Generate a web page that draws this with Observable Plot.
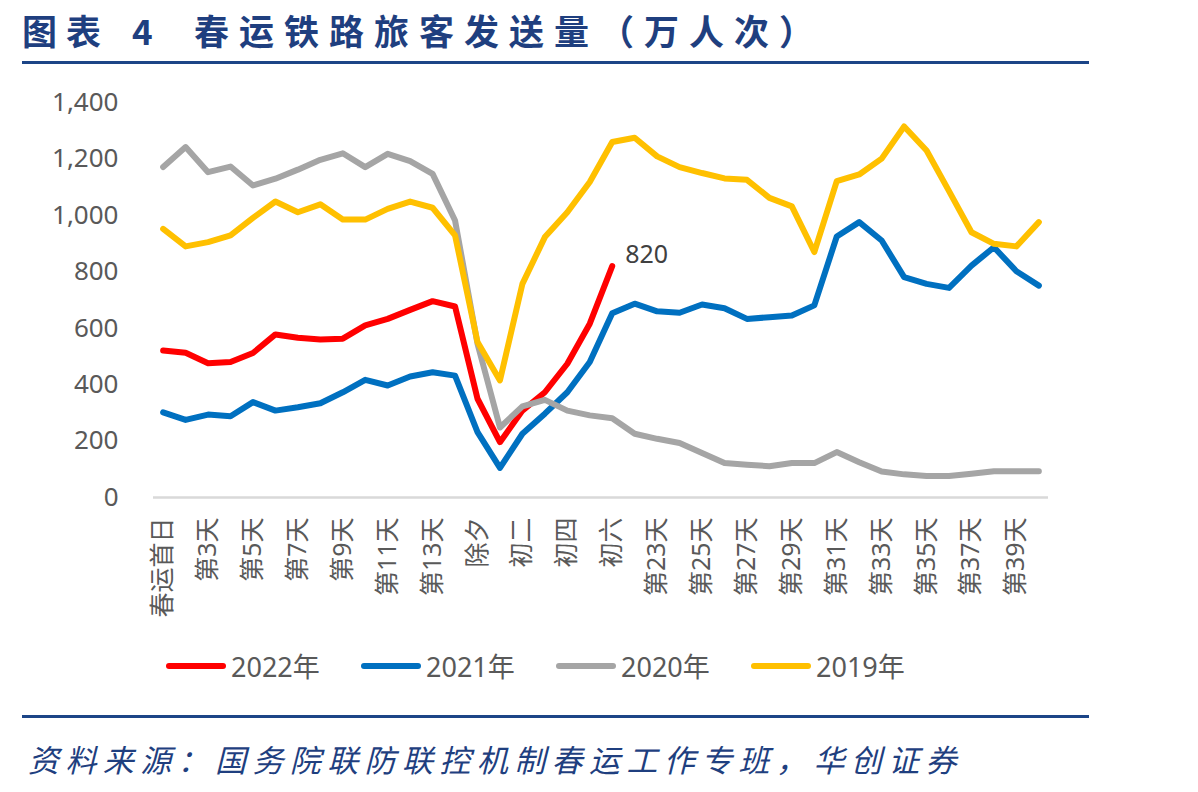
<!DOCTYPE html>
<html>
<head>
<meta charset="utf-8">
<script src="https://cdn.jsdelivr.net/npm/d3@7"></script>
<script src="https://cdn.jsdelivr.net/npm/@observablehq/plot@0.6"></script>
<style>
  html, body { margin: 0; padding: 0; background: #fff; }
  #page { position: relative; width: 1198px; height: 792px; overflow: hidden;
          font-family: "Noto Sans", "Noto Sans CJK SC", sans-serif; }
  .title { position: absolute; top: 6px; font-family: "Noto Sans CJK SC", sans-serif;
           font-weight: 700; font-size: 35px; color: #1f3f7f; white-space: nowrap; line-height: 48px; }
  .rule { position: absolute; left: 22px; width: 1067px; height: 3px; background: #1c4587; }
  #chart { position: absolute; left: 0; top: 70px; }
  #legend { position: absolute; left: 166px; top: 646px; display: flex; }
  .item { width: 195px; display: flex; align-items: center; font-size: 27px; color: #595959; }
  .sw { display: inline-block; width: 60px; height: 6px; border-radius: 3px; margin-right: 5px; }
  .caption { position: absolute; left: 28px; top: 736px; font-family: "Noto Sans CJK SC", sans-serif;
             font-style: italic; font-size: 31px; letter-spacing: 6.4px; color: #1f3f7f; white-space: nowrap; }
</style>
</head>
<body>
<div id="page">
  <div class="title" style="left:22px;letter-spacing:9px">图表</div>
  <div class="title" style="left:132px">4</div>
  <div class="title" style="left:194px;letter-spacing:10px">春运铁路旅客发送量（万人次）</div>
  <div class="rule" style="top:61px"></div>
  <div id="chart"></div>
  <div id="legend"></div>
  <div class="rule" style="top:715px"></div>
  <div class="caption">资料来源：国务院联防联控机制春运工作专班，华创证券</div>
</div>
<script>
// Days of the Spring Festival travel season
const days = [
  "春运首日", "第2天", "第3天", "第4天", "第5天", "第6天", "第7天", "第8天", "第9天", "第10天",
  "第11天", "第12天", "第13天", "第14天", "除夕", "初一", "初二", "初三", "初四", "初五",
  "初六", "第22天", "第23天", "第24天", "第25天", "第26天", "第27天", "第28天", "第29天", "第30天",
  "第31天", "第32天", "第33天", "第34天", "第35天", "第36天", "第37天", "第38天", "第39天", "第40天"
];

// Railway passengers sent per day (10k trips)
const y2022 = [521, 513, 476, 480, 512, 578, 566, 560, 563, 610,
               633, 665, 696, 677, 350, 196, 308, 373, 474, 616,
               820];
const y2021 = [302, 275, 294, 288, 338, 308, 320, 334, 373, 417,
               397, 429, 444, 432, 232, 105, 226, 297, 373, 480,
               653, 687, 660, 655, 684, 671, 633, 639, 645, 681,
               925, 976, 911, 781, 757, 743, 822, 887, 802, 751];
const y2020 = [1171, 1242, 1153, 1173, 1106, 1130, 1162, 1197, 1220, 1171,
               1218, 1192, 1147, 982, 545, 248, 323, 346, 308, 291,
               281, 226, 208, 193, 158, 122, 116, 111, 122, 122,
               161, 125, 92, 82, 76, 76, 84, 93, 93, 93];
const y2019 = [952, 890, 905, 929, 991, 1049, 1011, 1039, 985, 985,
               1023, 1049, 1027, 929, 551, 415, 757, 923, 1011, 1118,
               1260, 1275, 1209, 1171, 1150, 1131, 1126, 1062, 1032, 870,
               1121, 1145, 1201, 1315, 1230, 1086, 940, 899, 890, 976];

const seriesNames = ["2022年", "2021年", "2020年", "2019年"];
const seriesValues = [y2022, y2021, y2020, y2019];
const seriesColors = ["#ff0000", "#0070c0", "#a5a5a5", "#ffc000"];

const yTicks = [0, 200, 400, 600, 800, 1000, 1200, 1400];
const xTicks = days.filter((d, i) => i % 2 === 0);

const rows = seriesNames.flatMap((name, s) =>
  seriesValues[s].map((v, i) => ({series: name, day: days[i], value: v}))
);
const lastRed = {day: days[y2022.length - 1], value: y2022[y2022.length - 1]};

const fontFamily = '"Noto Sans", "Noto Sans CJK SC", sans-serif';

const chart = Plot.plot({
  width: 1198,
  height: 560,
  marginTop: 32,
  marginBottom: 133,
  marginLeft: 153,
  marginRight: 150,
  style: {fontFamily, fontSize: "25px", color: "#595959", background: "transparent"},
  x: {type: "point", domain: days, padding: 0.43, round: false},
  y: {domain: [0, 1400]},
  color: {domain: seriesNames, range: seriesColors},
  marks: [
    Plot.ruleY([0], {stroke: "#d9d9d9", strokeWidth: 2.5}),
    Plot.axisY({ticks: yTicks, tickSize: 0, tickPadding: 35, tickFormat: d3.format(","),
                fill: "#595959", fontSize: 26, label: null}),
    Plot.axisX({ticks: xTicks, tickSize: 0, tickPadding: 20, tickRotate: -90,
                fill: "#595959", fontSize: 25, label: null}),
    Plot.line(rows, {x: "day", y: "value", z: "series", stroke: "series",
                     strokeWidth: 6, strokeLinejoin: "round", strokeLinecap: "round"}),
    Plot.text([lastRed], {x: "day", y: "value", text: d => String(d.value),
                          dx: 13, dy: -11, textAnchor: "start", fontSize: 25, fill: "#404040"})
  ]
});
document.getElementById("chart").appendChild(chart);

// Legend row
const legend = document.getElementById("legend");
seriesNames.forEach((name, i) => {
  const item = document.createElement("div");
  item.className = "item";
  const sw = document.createElement("span");
  sw.className = "sw";
  sw.style.background = seriesColors[i];
  item.appendChild(sw);
  item.appendChild(document.createTextNode(name));
  legend.appendChild(item);
});
</script>
</body>
</html>
